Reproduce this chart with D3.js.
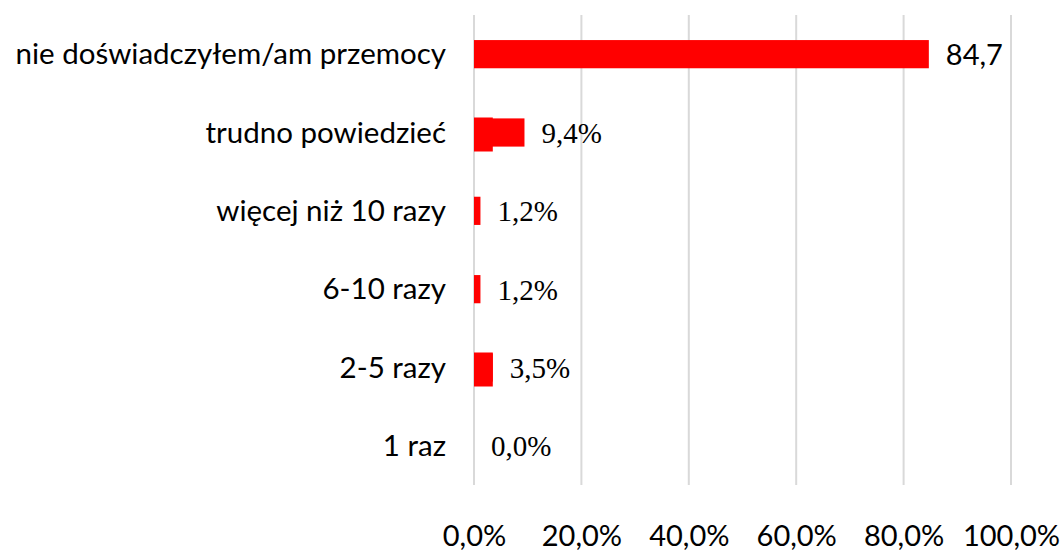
<!DOCTYPE html>
<html>
<head>
<meta charset="utf-8">
<script src="https://cdn.jsdelivr.net/npm/d3@7"></script>
<style>
  body { margin: 0; background: #fff; }
  svg { display: block; }
</style>
</head>
<body>
<svg></svg>
<script>
const categories = ["nie doświadczyłem/am przemocy", "trudno powiedzieć", "więcej niż 10 razy", "6-10 razy", "2-5 razy", "1 raz"];
const values = [84.7, 9.4, 1.2, 1.2, 3.5, 0.0];
const valueLabels = ["84,7", "9,4%", "1,2%", "1,2%", "3,5%", "0,0%"];
// the 3,5% shape shows up twice in the original, also over "trudno powiedzieć"
const strayCategories = ["trudno powiedzieć", "2-5 razy"];
const strayValues = [3.5, 3.5];
const ticks = [0, 20, 40, 60, 80, 100];

const width = 1061, height = 553;
const sans = "Lato, 'Noto Sans', sans-serif";
const serif = "'Liberation Serif', 'DejaVu Serif', serif";

const svg = d3.select("svg")
    .attr("width", width)
    .attr("height", height);

const x = d3.scaleLinear()
    .domain([0, 100])
    .range([474, 1011]);

const y = d3.scaleBand()
    .domain(categories)
    .range([15, 485])
    .paddingInner(0.64)
    .paddingOuter(0.32);

// grid
svg.append("g")
    .selectAll("line")
    .data(ticks)
    .enter()
    .append("line")
    .attr("x1", d => x(d))
    .attr("x2", d => x(d))
    .attr("y1", 15)
    .attr("y2", 485)
    .style("stroke", "#d9d9d9")
    .style("stroke-width", 2);

// bars
svg.append("g")
    .selectAll("rect")
    .data(values)
    .enter()
    .append("rect")
    .attr("x", x(0))
    .attr("y", (d, i) => y(categories[i]))
    .attr("width", d => x(d) - x(0))
    .attr("height", y.bandwidth())
    .style("fill", "#ff0000");

svg.append("g")
    .selectAll("rect")
    .data(strayValues)
    .enter()
    .append("rect")
    .attr("x", x(0))
    .attr("y", (d, i) => y(strayCategories[i]) + y.bandwidth() / 2 - 15)
    .attr("width", d => x(d) - x(0))
    .attr("height", 34)
    .style("fill", "#ff0000");

// value labels
svg.append("g")
    .selectAll("text")
    .data(values)
    .enter()
    .append("text")
    .attr("x", d => x(d) + 17)
    .attr("y", (d, i) => y(categories[i]) + y.bandwidth() / 2)
    .attr("dy", "0.36em")
    .style("font-family", (d, i) => i === 0 ? sans : serif)
    .style("font-size", (d, i) => i === 0 ? "29px" : "29px")
    .style("fill", "#000")
    .text((d, i) => valueLabels[i]);

// category labels
svg.append("g")
    .selectAll("text")
    .data(categories)
    .enter()
    .append("text")
    .attr("x", 446)
    .attr("y", d => y(d) + y.bandwidth() / 2)
    .attr("dy", "0.34em")
    .attr("text-anchor", "end")
    .style("font-family", sans)
    .style("font-size", "29.5px")
    .style("fill", "#000")
    .text(d => d);

// x axis
const axis = svg.append("g")
    .attr("transform", "translate(0, 546)")
    .call(d3.axisBottom(x)
        .tickValues(ticks)
        .tickSize(0)
        .tickFormat(d => d.toFixed(1).replace(".", ",") + "%"));

axis.select(".domain").remove();
axis.selectAll("text")
    .attr("y", 0)
    .attr("dy", 0)
    .style("font-family", sans)
    .style("font-size", "29px")
    .style("fill", "#000");
</script>
</body>
</html>
